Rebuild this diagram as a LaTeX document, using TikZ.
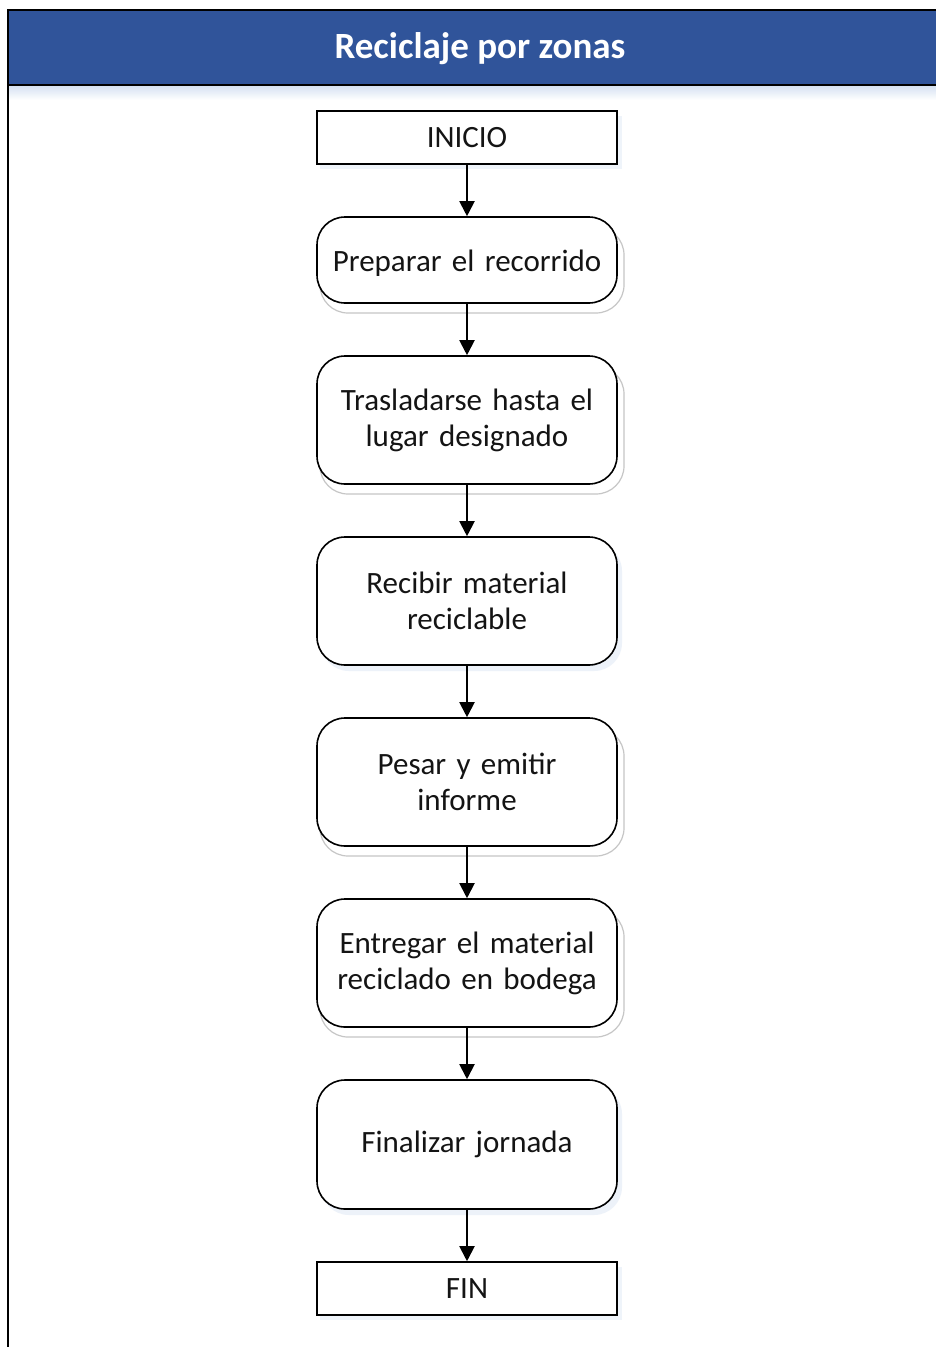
\documentclass[tikz,border=0pt]{standalone}
\usepackage{fontspec}
\setmainfont{Carlito}
\usetikzlibrary{arrows.meta}
\definecolor{hdrblue}{RGB}{48,84,154}
\definecolor{fadeblue}{RGB}{214,226,242}
\definecolor{ink}{RGB}{20,20,20}
\begin{document}
\begin{tikzpicture}[x=1pt,y=-1pt,
  boxtext/.style={font=\fontsize{31}{36}\selectfont, text=ink, align=center},
  termbox/.style={boxtext, draw=black, line width=1.6pt, fill=white,
    minimum width=300pt, minimum height=53pt, inner sep=0pt},
  stepbox/.style={boxtext, draw=black, line width=1.6pt, fill=white,
    rounded corners=28pt, minimum width=300pt, minimum height=128pt,
    inner sep=0pt, text width=290pt},
  ghost/.style={draw=gray!45, line width=1.2pt, rounded corners=28pt},
  haze/.style={fill=fadeblue!45, rounded corners=28pt},
  flow/.style={draw=black, line width=2pt, -{Triangle[length=15pt,width=15pt]}}]
\useasboundingbox (0,0) rectangle (936,1347);
\fill[white] (0,0) rectangle (936,1347);

% header band
\fill[hdrblue] (8,10) rectangle (940,85);
\shade[top color=fadeblue, bottom color=white] (9,86) rectangle (936,100);
\node[font=\fontsize{37}{41}\selectfont\bfseries, text=white] (title) at (480,49) {Reciclaje por zonas};
\draw[line width=2.5pt] (8,1350) -- (8,10) -- (940,10);
\draw[line width=2.5pt] (8,85) -- (940,85);

% soft shadows behind the steps
\fill[fadeblue!40] (320,116) rectangle (622,169);
\fill[fadeblue!40] (320,1267) rectangle (622,1320);
\draw[ghost] (320,227) rectangle (624,313);
\draw[ghost] (320,366) rectangle (624,494);
\draw[ghost] (320,728) rectangle (624,856);
\draw[ghost] (320,909) rectangle (624,1037);
\fill[haze] (321,543) rectangle (622,671);
\fill[haze] (321,1086) rectangle (622,1215);

% steps
\node[termbox] (inicio) at (467,137.5) {INICIO};
\node[stepbox, minimum height=86pt, text depth=0pt] (prep) at (467,260) {\raisebox{-2pt}{Preparar el recorrido}};
\node[stepbox] (tras) at (467,420) {\raisebox{-2pt}{Trasladarse hasta el}\\\raisebox{-2pt}{lugar designado}};
\node[stepbox] (recib) at (467,601) {Recibir material\\reciclable};
\node[stepbox] (pesar) at (467,782) {\raisebox{-1pt}{Pesar y emitir}\\\raisebox{-1pt}{informe}};
\node[stepbox] (entreg) at (467,963) {\raisebox{-2pt}{Entregar el material}\\\raisebox{-2pt}{reciclado en bodega}};
\node[stepbox, minimum height=129pt] (final) at (467,1144.5) {\raisebox{-2pt}{Finalizar jornada}};
\node[termbox] (fin) at (467,1288.5) {FIN};

% connectors
\draw[flow] (inicio) -- (prep);
\draw[flow] (prep) -- (tras);
\draw[flow] (tras) -- (recib);
\draw[flow] (recib) -- (pesar);
\draw[flow] (pesar) -- (entreg);
\draw[flow] (entreg) -- (final);
\draw[flow] (final) -- (fin);
\end{tikzpicture}
\end{document}
